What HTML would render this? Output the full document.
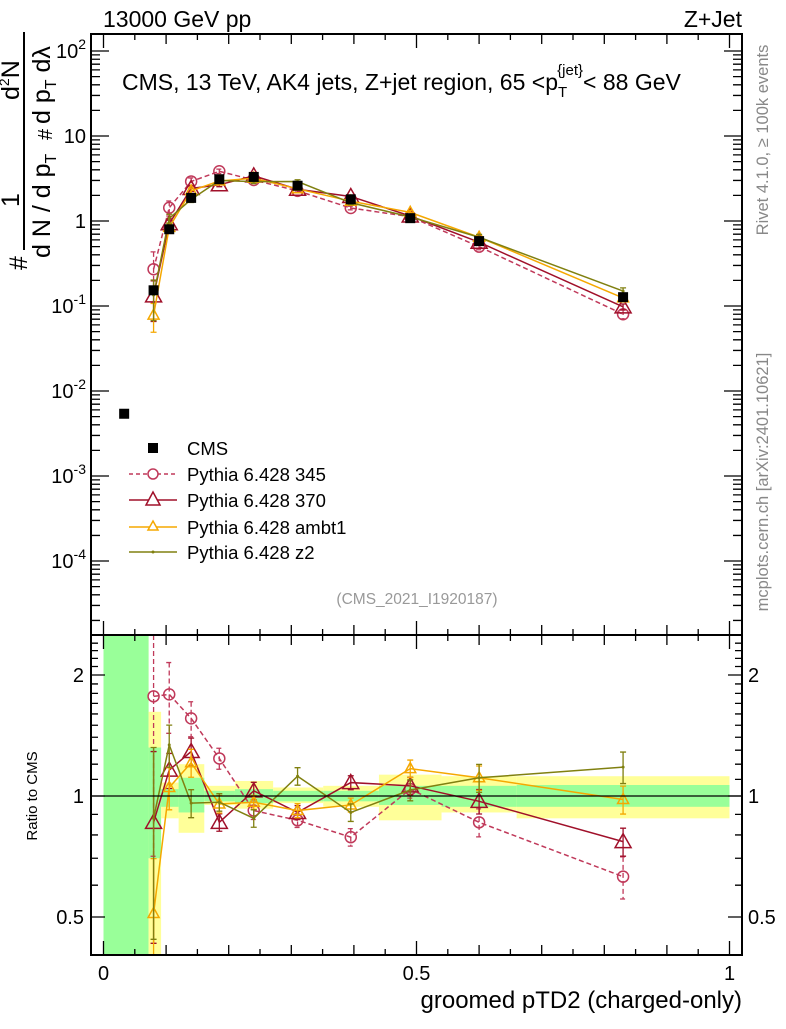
<!DOCTYPE html>
<html><head><meta charset="utf-8"><style>
body{margin:0;background:#fff;}
svg{font-family:"Liberation Sans",sans-serif;}
</style></head><body>
<svg id="chart" width="786" height="1024" xmlns="http://www.w3.org/2000/svg">
<text x="103" y="27" font-size="23">13000 GeV pp</text>
<text x="742" y="27" font-size="23" text-anchor="end">Z+Jet</text>
<text x="122" y="90" font-size="23">CMS, 13 TeV, AK4 jets, Z+jet region, 65 &lt;p<tspan font-size="15" dy="7">T</tspan><tspan font-size="15" dx="-10" dy="-22">{jet}</tspan><tspan dy="15">&lt; 88 GeV</tspan></text>
<text x="417" y="604" font-size="15.5" fill="#999" text-anchor="middle">(CMS_2021_I1920187)</text>
<text transform="translate(768,140) rotate(-90)" font-size="16.5" fill="#888" text-anchor="middle">Rivet 4.1.0, ≥ 100k events</text>
<text transform="translate(768,482) rotate(-90)" font-size="16.5" fill="#888" text-anchor="middle">mcplots.cern.ch [arXiv:2401.10621]</text>
<g font-size="25">
<text transform="translate(27,270) rotate(-90)">#</text>
<line x1="24" y1="250" x2="24" y2="32" stroke="#000" stroke-width="2"/>
<text transform="translate(19,207) rotate(-90)">1</text>
<text transform="translate(50,258) rotate(-90)">d N / d p<tspan font-size="16" dy="6">T</tspan></text>
<text transform="translate(52,140) rotate(-90)" font-size="20">#</text>
<text transform="translate(19,100) rotate(-90)">d<tspan font-size="14" dy="-10">2</tspan><tspan dy="10">N</tspan></text>
<text transform="translate(50,124) rotate(-90)">d p<tspan font-size="16" dy="6">T</tspan><tspan dy="-6"> dλ</tspan></text>
</g>
<text transform="translate(37,796) rotate(-90)" font-size="15" text-anchor="middle">Ratio to CMS</text>
<text x="742" y="1008" font-size="24" text-anchor="end">groomed pTD2 (charged-only)</text>
<g id="bands"></g><g id="marks"></g><g id="axes"></g>
<g font-size="18.5">
<rect x="148" y="443" width="10" height="10" fill="#000"/>
<text x="187" y="455">CMS</text>
<line x1="129" y1="474" x2="177" y2="474" stroke="#c0395a" stroke-dasharray="4,3" stroke-width="1.5"/>
<circle cx="153" cy="474" r="5" fill="#fff" stroke="#c0395a" stroke-width="1.5"/>
<text x="187" y="481">Pythia 6.428 345</text>
<line x1="129" y1="500" x2="177" y2="500" stroke="#a0102a" stroke-width="1.5"/>
<path d="M153,492 L160,505 L146,505 Z" fill="#fff" stroke="#a0102a" stroke-width="1.5"/>
<text x="187" y="507">Pythia 6.428 370</text>
<line x1="129" y1="527" x2="177" y2="527" stroke="#f5a800" stroke-width="1.5"/>
<path d="M153,521 L158,530 L148,530 Z" fill="#fff" stroke="#f5a800" stroke-width="1.5"/>
<text x="187" y="534">Pythia 6.428 ambt1</text>
<line x1="129" y1="552" x2="177" y2="552" stroke="#808010" stroke-width="1.5"/>
<circle cx="153" cy="552" r="1.5" fill="#808010"/>
<text x="187" y="559">Pythia 6.428 z2</text>
</g>
</svg>
<script>
const binEdges=[0,0.072,0.092,0.12,0.161,0.21,0.271,0.351,0.44,0.54,0.66,1.0];
const totUp=[3,1.62,1.08,1.20,1.06,1.09,1.05,1.06,1.13,1.12,1.12];
const totDn=[0.3,0.4,0.88,0.81,0.95,0.93,0.96,0.94,0.87,0.91,0.88];
const statUp=[3,1.32,1.04,1.11,1.03,1.04,1.03,1.03,1.06,1.06,1.065];
const statDn=[0.3,0.70,0.94,0.91,0.97,0.96,0.97,0.97,0.95,0.94,0.94];
const cmsX=[0.033,0.08,0.105,0.14,0.185,0.24,0.31,0.395,0.49,0.60,0.83];
const cmsY=[0.0054,0.153,0.80,1.87,3.1,3.3,2.6,1.8,1.08,0.58,0.127];
const mcX=[0.08,0.105,0.14,0.185,0.24,0.31,0.395,0.49,0.60,0.83];
const r345=[1.77,1.79,1.56,1.24,0.92,0.87,0.79,1.04,0.86,0.63];
const e345=[0.6,0.2,0.1,0.06,0.05,0.04,0.05,0.05,0.08,0.12];
const r370=[0.86,1.16,1.29,0.86,1.03,0.91,1.08,1.06,0.97,0.77];
const e370=[0.5,0.1,0.08,0.05,0.05,0.04,0.04,0.05,0.07,0.08];
const rAmbt1=[0.51,1.05,1.21,0.955,0.965,0.92,0.95,1.17,1.11,0.98];
const eAmbt1=[0.37,0.12,0.08,0.05,0.04,0.04,0.04,0.05,0.07,0.08];
const rZ2=[0.88,1.34,0.96,0.965,0.88,1.12,0.91,1.035,1.11,1.18];
const eZ2=[0.5,0.12,0.08,0.05,0.05,0.05,0.05,0.06,0.08,0.09];
const NS='http://www.w3.org/2000/svg';
const X=x=>103.5+626*x;
const YM=v=>221-85*Math.log10(v);
const YR=r=>Math.min(955,Math.max(635,796-121*Math.log2(r)));
function mk(parent,tag,attrs){const e=document.createElementNS(NS,tag);for(const k in attrs)e.setAttribute(k,attrs[k]);document.getElementById(parent).appendChild(e);return e;}
for(let i=0;i<binEdges.length-1;i++){
 let e=mk('bands','rect',{x:X(binEdges[i]),width:X(binEdges[i+1])-X(binEdges[i]),y:YR(totUp[i]),height:YR(totDn[i])-YR(totUp[i]),fill:'#ffff99'});
 
 
 e=mk('bands','rect',{x:X(binEdges[i]),width:X(binEdges[i+1])-X(binEdges[i]),y:YR(statUp[i]),height:YR(statDn[i])-YR(statUp[i]),fill:'#99ff99'});
 
 
}
const series=[
 {r:r345,e:e345,c:'#c0395a',dash:'5,3',m:'circle',name:'pythia-345'},
 {r:r370,e:e370,c:'#a0102a',dash:'',m:'bigtri',name:'pythia-370'},
 {r:rAmbt1,e:eAmbt1,c:'#f5a800',dash:'',m:'tri',name:'pythia-ambt1'},
 {r:rZ2,e:eZ2,c:'#808010',dash:'',m:'dot',name:'pythia-z2'}];
function marker(cx,cy,s){
 let e;
 if(s.m==='circle')e=mk('marks','circle',{cx:cx,cy:cy,r:5.5,fill:'none',stroke:s.c,'stroke-width':1.5});
 else if(s.m==='bigtri')e=mk('marks','path',{d:`M${cx},${cy-8}L${cx+8},${cy+6}L${cx-8},${cy+6}Z`,fill:'none',stroke:s.c,'stroke-width':1.5});
 else if(s.m==='tri')e=mk('marks','path',{d:`M${cx},${cy-6}L${cx+5.5},${cy+4}L${cx-5.5},${cy+4}Z`,fill:'none',stroke:s.c,'stroke-width':1.5});
 else e=mk('marks','circle',{cx:cx,cy:cy,r:1.5,fill:s.c});
 
 
}
function errbar(x,y1,y2,s){
 const e=mk('marks','path',{d:`M${x},${y1}V${y2}M${x-3},${y1}H${x+3}M${x-3},${y2}H${x+3}`,stroke:s.c,'stroke-width':1.3,fill:'none','stroke-dasharray':s.dash||'none'});
 
 
}
series.forEach(s=>{
 let pts=mcX.map((x,i)=>[X(x),YM(s.r[i]*cmsY[i+1])]);
 let l=mk('marks','polyline',{points:pts.map(p=>p.join(',')).join(' '),fill:'none',stroke:s.c,'stroke-width':1.5,'stroke-dasharray':s.dash||'none'});
 
 
 mcX.forEach((x,i)=>{const v=s.r[i]*cmsY[i+1];errbar(X(x),YM(v*(1+s.e[i])),YM(Math.max(v*(1-s.e[i]),1e-6)),s);marker(X(x),YM(v),s);});
 pts=mcX.map((x,i)=>[X(x),YR(s.r[i])]);
 l=mk('marks','polyline',{points:pts.map(p=>p.join(',')).join(' '),fill:'none',stroke:s.c,'stroke-width':1.5,'stroke-dasharray':s.dash||'none'});
 
 
 mcX.forEach((x,i)=>{errbar(X(x),YR(s.r[i]*(1+s.e[i])),YR(Math.max(s.r[i]*(1-s.e[i]),0.01)),s);marker(X(x),YR(s.r[i]),s);});
});
cmsX.forEach((x,i)=>{
 const e=mk('marks','rect',{x:X(x)-5,y:YM(cmsY[i])-5,width:10,height:10,fill:'#000'});
 
 
});
let ax=mk('axes','line',{x1:91,x2:742,y1:796,y2:796,stroke:'#000','stroke-width':1.2});


ax=mk('axes','rect',{x:91,y:34,width:651,height:601,fill:'none',stroke:'#000','stroke-width':2});


ax=mk('axes','rect',{x:91,y:635,width:651,height:320,fill:'none',stroke:'#000','stroke-width':2});


let d='';
for(let k=0;k<=20;k++){const x=X(k*0.05);const L=k%10===0?14:(k%2===0?10:6);
 d+=`M${x},34v${L}M${x},635v-${L}M${x},635v${L}M${x},955v-${L}`;}
for(let p=-5;p<=2;p++){for(let m=1;m<10;m++){const y=YM(m*Math.pow(10,p));if(y<35||y>634)continue;const L=m===1?18:9;d+=`M91,${y}h${L}M742,${y}h-${L}`;}}
[0.4,0.5,0.6,0.7,0.8,0.9,1,2].forEach(r=>{const y=YR(r);const L=(r===0.5||r===1||r===2)?14:7;d+=`M91,${y}h${L}M742,${y}h-${L}`;});
for(let r=1.1;r<2.5;r+=0.1){const y=YR(r);if(y>636)d+=`M91,${y}h7M742,${y}h-7`;}
ax=mk('axes','path',{d:d,stroke:'#000','stroke-width':1.3,fill:'none'});


const xTickVals=[0,0.5,1];
const xTickLabels=['0','0.5','1'];
xTickVals.forEach((v,i)=>{const t=mk('axes','text',{x:X(v),y:980,'font-size':20,'text-anchor':'middle'});t.textContent=xTickLabels[i];
 
 });
const yExps=[2,1,0,-1,-2,-3,-4];
yExps.forEach(p=>{const t=mk('axes','text',{x:86,y:YM(Math.pow(10,p))+7,'font-size':20,'text-anchor':'end'});
 if(p===1)t.textContent='10';else if(p===0)t.textContent='1';else{t.innerHTML='10<tspan font-size="14" dy="-9">'+p+'</tspan>';}
 
 });
const rTicks=[2,1,0.5];
const rLabels=['2','1','0.5'];
rTicks.forEach((r,i)=>{[[84,'end'],[748,'start']].forEach(([x,a])=>{const t=mk('axes','text',{x:x,y:YR(r)+7,'font-size':20,'text-anchor':a});t.textContent=rLabels[i];
 
 });});
</script>
</body></html>
